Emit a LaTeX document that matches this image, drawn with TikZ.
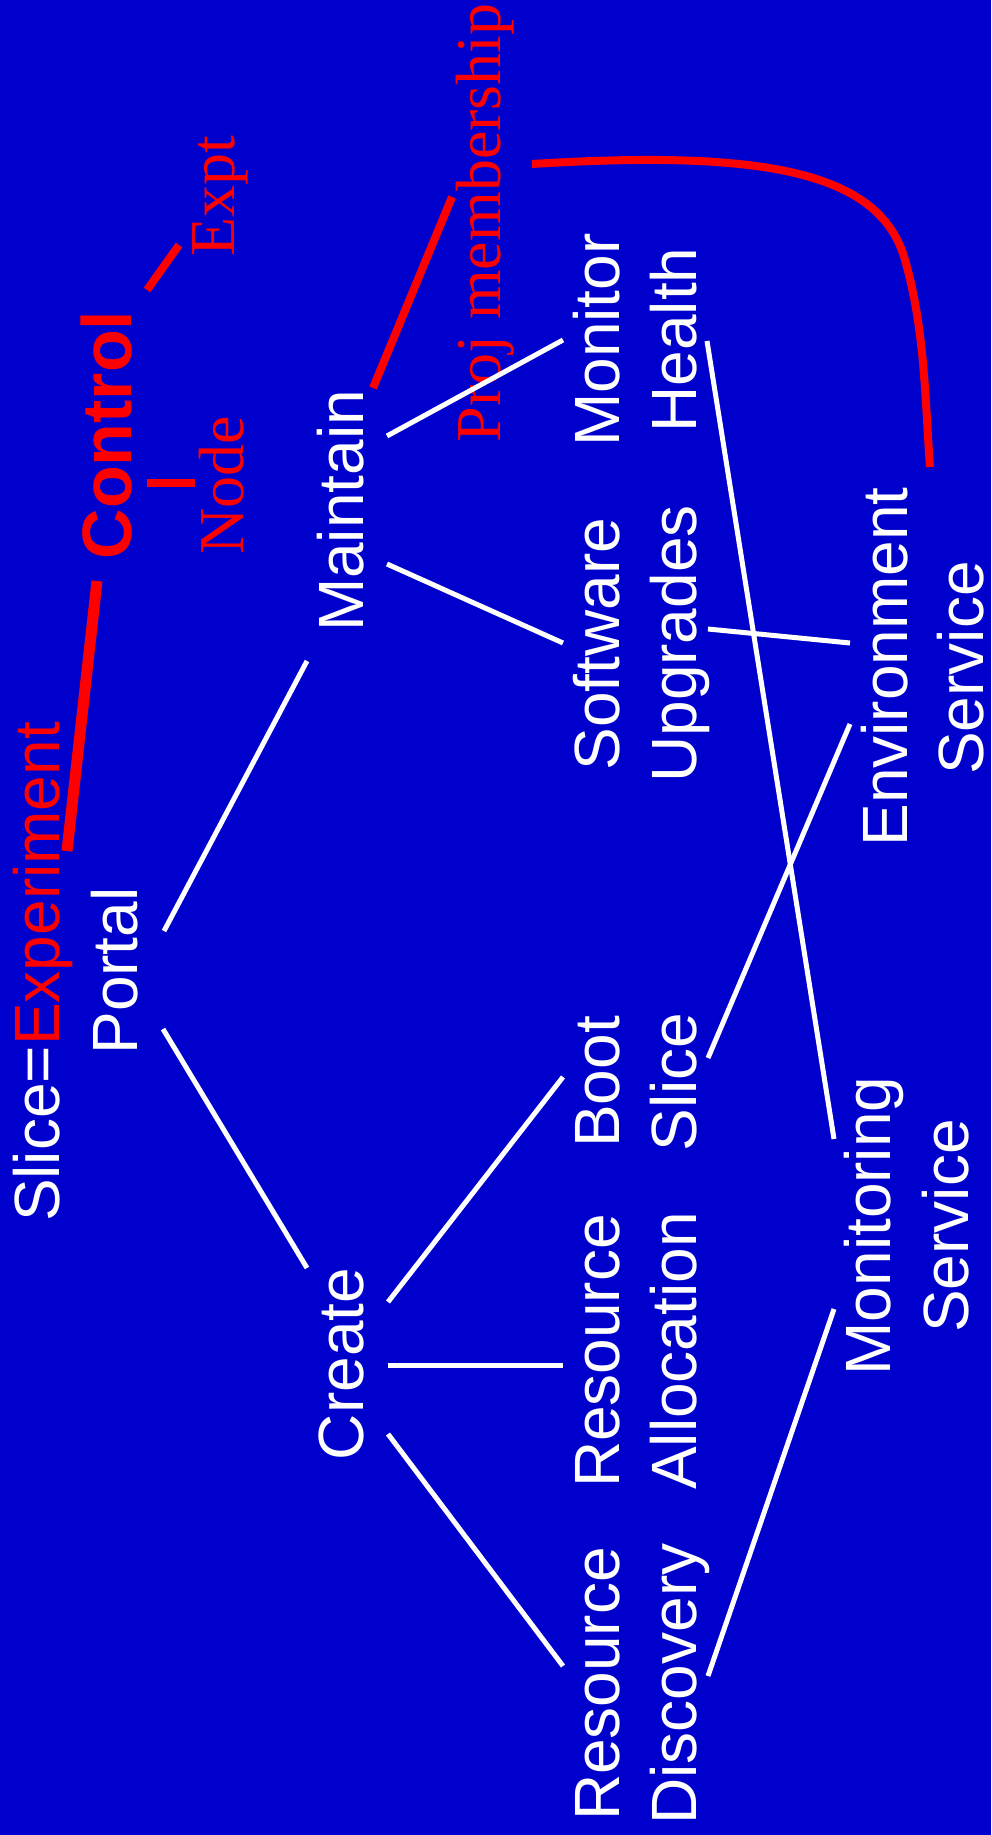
\documentclass[tikz,border=0pt]{standalone}
\usepackage{fontspec}
\setmainfont{Liberation Sans}
\newfontfamily\timesfont{Liberation Serif}
\definecolor{slideblue}{RGB}{0,0,204}
\definecolor{markred}{RGB}{255,0,0}

\begin{document}
\begin{tikzpicture}[
        x=1pt, y=-1pt,
        task_text/.style={rotate=90, anchor=base, inner sep=0pt, text=white, font=\fontsize{64}{77}\selectfont},
        red_note/.style={rotate=90, anchor=base, inner sep=0pt, text=markred, font=\timesfont\fontsize{64}{77}\selectfont},
        link/.style={draw=white, line width=5pt},
        red_link/.style={draw=markred, line width=8pt}
    ]

    % Slide background
    \fill[slideblue] (0,0) rectangle (991,1835);
    \useasboundingbox (0,0) rectangle (991,1835);

    % Left column: slice definition and the control side
    \node[task_text] (slice_def) at (59, 972) {Slice=\textcolor{markred}{Experiment}};
    \node[task_text] (portal) at (137, 971) {Portal};
    \node[task_text, text=markred, font=\bfseries\fontsize{70}{80}\selectfont] (control) at (131, 435) {Control};
    \node[red_note] (node_note) at (243, 485) {Node};
    \node[red_note] (expt_note) at (234, 196) {Expt};
    \node[red_note] (proj_note) at (500, 223) {Proj membership};

    % Second column
    \node[task_text] (maintain) at (363, 511) {Maintain};
    \node[task_text] (create) at (363, 1364) {Create};

    % Third column (two lines each)
    \node[task_text] (monitor) at (619, 340) {Monitor};
    \node[task_text] (health) at (696, 340) {Health};
    \node[task_text] (software) at (619, 644) {Software};
    \node[task_text] (upgrades) at (696, 644) {Upgrades};
    \node[task_text] (boot) at (619, 1082) {Boot};
    \node[task_text] (boot_slice) at (696, 1082) {Slice};
    \node[task_text] (res_alloc) at (619, 1351) {Resource};
    \node[task_text] (allocation) at (696, 1351) {Allocation};
    \node[task_text] (res_disc) at (619, 1684) {Resource};
    \node[task_text] (discovery) at (696, 1684) {Discovery};

    % Services on the right
    \node[task_text] (environment) at (907, 667) {Environment};
    \node[task_text] (env_service) at (983, 668) {Service};
    \node[task_text] (monitoring) at (890, 1226) {Monitoring};
    \node[task_text] (mon_service) at (968, 1226) {Service};

    % White links between tasks
    \draw[link] ([shift={(27,-40)}]portal.base) -- ([shift={(-56,150)}]maintain.base);
    \draw[link] ([shift={(26,58)}]portal.base) -- ([shift={(-56,-96)}]create.base);
    \draw[link] ([shift={(24,-75)}]maintain.base) -- ([shift={(-56,0)}]monitor.base);
    \draw[link] ([shift={(24,53)}]maintain.base) -- ([shift={(-56,-1)}]software.base);
    \draw[link] ([shift={(25,-62)}]create.base) -- ([shift={(-56,-5)}]boot.base);
    \draw[link] ([shift={(25,1)}]create.base) -- ([shift={(-56,14)}]res_alloc.base);
    \draw[link] ([shift={(25,70)}]create.base) -- ([shift={(-56,-18)}]res_disc.base);
    \draw[link] ([shift={(11,1)}]health.base) -- ([shift={(-56,-87)}]monitoring.base);
    \draw[link] ([shift={(12,-15)}]upgrades.base) -- ([shift={(-57,-24)}]environment.base);
    \draw[link] ([shift={(12,-24)}]boot_slice.base) -- ([shift={(-57,57)}]environment.base);
    \draw[link] ([shift={(12,-8)}]discovery.base) -- ([shift={(-56,83)}]monitoring.base);

    % Red marks
    \draw[red_link, line width=11pt] ([shift={(8,-121)}]slice_def.base) -- ([shift={(-34,146)}]control.base);
    \draw[red_link] ([shift={(16,48)}]control.base) -- ([shift={(-48,-2)}]node_note.base);
    \draw[red_link] ([shift={(16,-145)}]control.base) -- ([shift={(-55,49)}]expt_note.base);
    \draw[red_link] ([shift={(10,-123)}]maintain.base) -- ([shift={(-48,-26)}]proj_note.base);
    \draw[red_link] ([shift={(32,-59)}]proj_note.base) .. controls (760,150) and (880,170) .. (905,260)
        .. controls (925,330) and (925,400) .. ([shift={(23,-200)}]environment.base);

\end{tikzpicture}
\end{document}
